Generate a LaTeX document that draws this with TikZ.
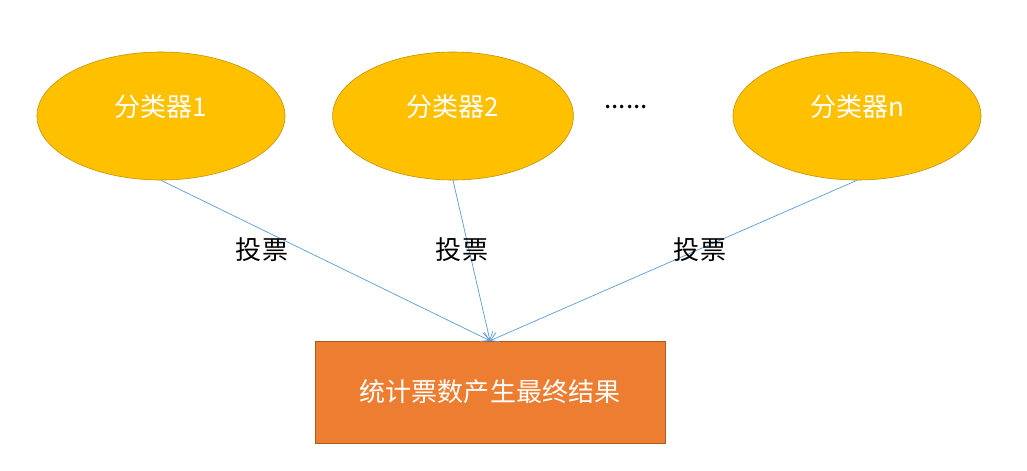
\documentclass[tikz,border=0pt]{standalone}
\usepackage{fontspec}
\setmainfont{Noto Sans CJK SC}
\usepackage{xcolor}
\usepackage{tikz}
\usetikzlibrary{positioning, shapes.geometric, arrows.meta}

\definecolor{clfgold}{HTML}{FFC000}
\definecolor{clfedge}{HTML}{BF9000}
\definecolor{resorange}{HTML}{ED7D31}
\definecolor{resedge}{HTML}{AE5A21}
\definecolor{voteblue}{HTML}{5B9BD5}

\begin{document}
\begin{tikzpicture}[x=0.025cm, y=-0.025cm,
        every node/.style={font=\fontsize{18.5}{22}\selectfont},
        clf/.style={ellipse, draw=clfedge, fill=clfgold, text=white,
            minimum width=6.2cm, minimum height=3.2cm, inner sep=0pt, text depth=0.52cm},
        vote/.style={draw=voteblue, line width=0.5pt, -{Straight Barb[length=2mm, width=2.5mm]}}]
        \useasboundingbox (0,0) rectangle (1027,470);

        \node[clf] (clf1) at (161,116) {分类器1};
        \node[clf, minimum width=6.02cm] (clf2) at (453,116) {分类器2};
        \node[clf] (clfn) at (857,116) {分类器n};
        \node (dots) at (626,107) {......};

        \node[draw=resedge, fill=resorange, text=white,
            minimum width=8.75cm, minimum height=2.55cm] (result) at (490,392) {统计票数产生最终结果};

        \draw[vote] (clf1.south) -- (result.north);
        \draw[vote] (clf2.south) -- (result.north);
        \draw[vote] (clfn.south) -- (result.north);

        \node (v1) at (262,250) {投票};
        \node (v2) at (462,250) {投票};
        \node (vn) at (700,250) {投票};
      \end{tikzpicture}
\end{document}
